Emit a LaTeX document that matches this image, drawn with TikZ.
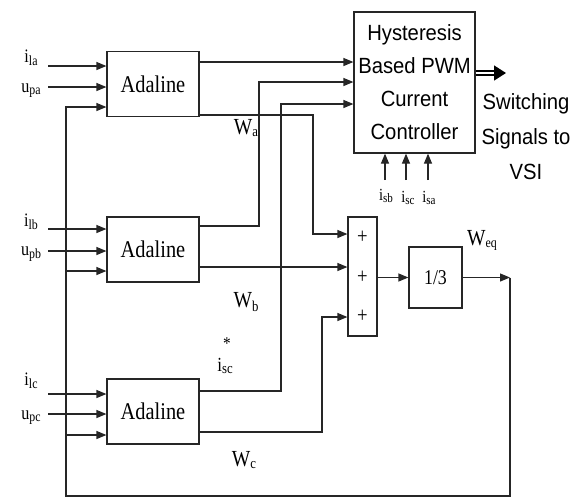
\documentclass[tikz,border=0pt]{standalone}
\usepackage{fontspec}
\usetikzlibrary{arrows.meta,calc}
\newfontfamily\serifc[FakeStretch=0.85]{Liberation Serif}
\newfontfamily\sansc[FakeStretch=0.92]{Liberation Sans}
\newcommand\mylbl[4]{{\serifc\fontsize{#3}{#3}\selectfont #1}\raisebox{-0.3\height}{\serifc\fontsize{#4}{#4}\selectfont #2}}
\tikzset{
  ln/.style={line width=1.2pt, draw=black!85},
  arr/.style={ln, -{Triangle[length=10pt,width=8pt]}},
  blockbox/.style={draw=black!85, line width=1.2pt, inner sep=0pt, minimum width=92pt, minimum height=65pt, font=\serifc\fontsize{24}{24}\selectfont},
  txt/.style={inner sep=0pt},
}
\begin{document}
\begin{tikzpicture}[x=1pt,y=-1pt]
\useasboundingbox (0,0) rectangle (573,499);
% blocks
\node[blockbox] (A1) at (153,84) {Adaline};
\node[blockbox] (A2) at (153,249.5) {Adaline};
\node[blockbox] (A3) at (153,411.5) {Adaline};
\node[draw=black!85, line width=1.2pt, inner sep=0pt, minimum width=121pt, minimum height=141pt, align=center,
      font=\sansc\fontsize{22}{33}\selectfont] (H) at (414.5,82.5) {Hysteresis\\Based PWM\\Current\\Controller};
\node[draw=black!85, line width=1.2pt, inner sep=0pt, minimum width=29pt, minimum height=119pt] (S) at (362.5,276.5) {};
\node[txt, font=\serifc\fontsize{22}{22}\selectfont] (p1) at (362.5,237) {+};
\node[txt, font=\serifc\fontsize{22}{22}\selectfont] (p2) at (362.5,277) {+};
\node[txt, font=\serifc\fontsize{22}{22}\selectfont] (p3) at (362.5,316) {+};
\node[draw=black!85, line width=1.2pt, inner sep=0pt, minimum width=53pt, minimum height=61pt, font=\serifc\fontsize{21}{21}\selectfont] (T) at (435.5,277.5) {1/3};
\node[txt, align=center, font=\sansc\fontsize{22}{35}\selectfont] (SW) at (526,137) {Switching\\Signals to\\VSI};
% input labels
\node[txt] (la) at (31,58) {\mylbl{i}{la}{19}{14}};
\node[txt] (pa) at (31,91) {\mylbl{u}{pa}{19}{14}};
\node[txt] (lb) at (31,222) {\mylbl{i}{lb}{19}{14}};
\node[txt] (pb) at (31,254) {\mylbl{u}{pb}{19}{14}};
\node[txt] (lc) at (31,381) {\mylbl{i}{lc}{19}{14}};
\node[txt] (pc) at (31,418) {\mylbl{u}{pc}{19}{14}};
\coordinate (ia) at (48,66);  \coordinate (ua) at (48,87);
\coordinate (ib) at (48,229); \coordinate (ub) at (48,251);
\coordinate (ic) at (48,394); \coordinate (uc) at (48,414);
\draw[arr] (ia) -- (A1.west |- ia);
\draw[arr] (ua) -- (A1.west |- ua);
\draw[arr] (ib) -- (A2.west |- ib);
\draw[arr] (ub) -- (A2.west |- ub);
\draw[arr] (ic) -- (A3.west |- ic);
\draw[arr] (uc) -- (A3.west |- uc);
% W labels
\node[txt] (Wa) at (246,128) {\mylbl{W}{a}{23}{15}};
\node[txt] (Wb) at (246,302) {\mylbl{W}{b}{23}{15}};
\node[txt] (Wc) at (244,460) {\mylbl{W}{c}{23}{15}};
\node[txt] (Weq) at (482,240) {\mylbl{W}{eq}{23}{14}};
\node[txt] (isc) at (225,366) {\mylbl{i}{sc}{20}{15}};
\node[txt, font=\serifc\fontsize{18}{18}\selectfont] (star) at (227,344) {*};
% sensor labels
\node[txt] (isb) at (386,196) {\mylbl{i}{sb}{17}{13}};
\node[txt] (iscb) at (408,198) {\mylbl{i}{sc}{17}{13}};
\node[txt] (isa) at (429,198) {\mylbl{i}{sa}{17}{13}};
\draw[arr] (385,180) -- (385,0 |- H.south);
\draw[arr] (406,180) -- (406,0 |- H.south);
\draw[arr] (428,180) -- (428,0 |- H.south);
% connections to hysteresis controller
\draw[arr] (A1.east |- 0,62) -- (H.west |- 0,62);
\draw[arr] (A2.east |- 0,226) -- (259,226) -- (259,82) -- (H.west |- 0,82);
\draw[arr] (A3.east |- 0,391) -- (281,391) -- (281,104) -- (H.west |- 0,104);
% connections to summer
\draw[arr] (A1.east |- 0,115) -- (313,115) -- (313,234) -- (S.west |- 0,234);
\draw[arr] (A2.east |- 0,267) -- (S.west |- 0,267);
\draw[arr] (A3.east |- 0,432) -- (322,432) -- (322,317) -- (S.west |- 0,317);
\draw[arr] (S.east |- T.west) -- (T.west);
% output and feedback
\coordinate (FB) at (510,277.5);
\draw[arr] (T.east) -- (FB);
\coordinate (FL) at (66,107);
\draw[arr] (FB) -- (510,496) -- (66,496) -- (FL) -- (A1.west |- FL);
\draw[arr] (66,271) -- (A2.west |- 0,271);
\draw[arr] (66,435) -- (A3.west |- 0,435);
% switching output
\coordinate (SO) at (506,73);
\draw[line width=1.5pt, double distance=2.2pt, draw=black, -{Triangle[length=12pt,width=15pt]}] (H.east |- SO) -- (SO);
\end{tikzpicture}
\end{document}
